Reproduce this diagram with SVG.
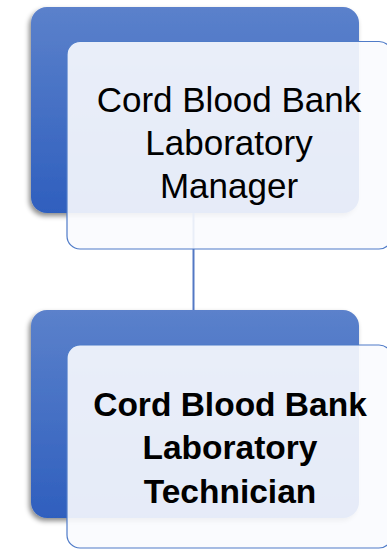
<svg xmlns="http://www.w3.org/2000/svg" width="387" height="550" viewBox="0 0 387 550">
  <defs>
    <linearGradient id="blueGrad" x1="0" y1="0" x2="0" y2="1">
      <stop offset="0" stop-color="#5b81cb"/>
      <stop offset="1" stop-color="#2f5fbe"/>
    </linearGradient>
    <filter id="shadow" x="-10%" y="-10%" width="120%" height="125%">
      <feDropShadow dx="-2" dy="3" stdDeviation="2.5" flood-color="#000" flood-opacity="0.45"/>
    </filter>
  </defs>
  <style>
    .back { fill: url(#blueGrad); filter: url(#shadow); }
    .front { fill: #fafbfe; fill-opacity: 0.9; stroke: #4f7bc8; stroke-width: 1.2; }
    .conn { stroke: #5378c4; stroke-width: 2; fill: none; }
    .t1 { font-family: "Liberation Sans", Arial, sans-serif; font-size: 35px; fill: #000; text-anchor: middle; }
    .t2 { font-family: "Liberation Sans", Arial, sans-serif; font-size: 33.5px; font-weight: bold; fill: #000; text-anchor: middle; }
  </style>

  <g id="node-manager-back">
    <rect class="back" x="31" y="7" width="328" height="206" rx="16" ry="16"/>
  </g>
  <g id="node-technician-back">
    <rect class="back" x="31" y="310" width="328" height="208" rx="16" ry="16"/>
  </g>

  <g id="connectors">
    <line class="conn" x1="193.5" y1="213" x2="193.5" y2="310"/>
  </g>

  <g id="node-manager">
    <rect class="front" x="67" y="41.5" width="325" height="207.5" rx="13" ry="13"/>
    <text class="t1" x="229" y="112">Cord Blood Bank</text>
    <text class="t1" x="229" y="155">Laboratory</text>
    <text class="t1" x="229" y="198">Manager</text>
  </g>

  <g id="node-technician">
    <rect class="front" x="67" y="345" width="325" height="203" rx="13" ry="13"/>
    <text class="t2" x="230" y="416">Cord Blood Bank</text>
    <text class="t2" x="230" y="459">Laboratory</text>
    <text class="t2" x="230" y="503">Technician</text>
  </g>
</svg>
